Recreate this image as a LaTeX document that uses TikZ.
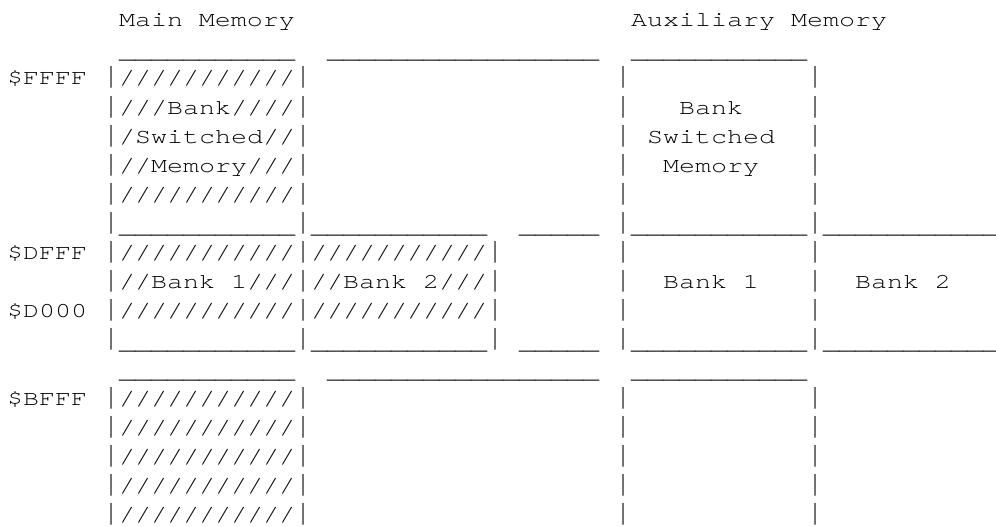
\documentclass[tikz,border=0pt]{standalone}
\usepackage{fontspec}
\usepackage{graphicx}
\newfontfamily\ascfamily{texgyrecursor-regular.otf}
% character cell: 16pt wide, rows 29.1pt apart; letters squeezed to 0.8 height
\newcommand\sq[1]{\scalebox{1}[0.8]{#1}}
% tall vertical bar and a lowered underscore run
\newcommand\vb{\scalebox{1}[1.4]{|}}
\newcommand\ul[1]{\raisebox{-3.5pt}{#1}}
\newcommand\ueleven{\ul{\_\_\_\_\_\_\_\_\_\_\_}}
\tikzset{
  asc/.style={anchor=base west, inner sep=0pt, outer sep=0pt,
    font=\fontsize{26.67pt}{29pt}\selectfont\ascfamily},
}
\begin{document}
\begin{tikzpicture}[x=16pt, y=-29.1pt]
\useasboundingbox[fill=white] (-0.4375,-0.921) rectangle (61.8125,17.189);
% headings
\node[asc] (mainT) at (7,0) {\sq{Main Memory}};
\node[asc] (auxT) at (39,0) {\sq{Auxiliary Memory}};
% top rules of the upper blocks
\node[asc] (u1a) at (7,1) {\sq{\ueleven}};
\node[asc] (u1b) at (20,1) {\sq{\ul{\_\_\_\_\_\_\_\_\_\_\_\_\_\_\_\_\_}}};
\node[asc] (u1c) at (39,1) {\sq{\ueleven}};
% bank switched memory, $E000-$FFFF
\node[asc] (aFFFF) at (0,2) {\sq{\$FFFF}};
\node[asc] (r2a) at (6,2) {\sq{\vb///////////\vb}};
\node[asc] (r2b) at (38,2) {\sq{\vb}};
\node[asc] (r2c) at (50,2) {\sq{\vb}};
\node[asc] (r3a) at (6,3) {\sq{\vb///Bank////\vb}};
\node[asc] (r3b) at (38,3) {\sq{\vb}};
\node[asc] (r3t) at (42,3) {\sq{Bank}};
\node[asc] (r3c) at (50,3) {\sq{\vb}};
\node[asc] (r4a) at (6,4) {\sq{\vb/Switched//\vb}};
\node[asc] (r4b) at (38,4) {\sq{\vb}};
\node[asc] (r4t) at (40,4) {\sq{Switched}};
\node[asc] (r4c) at (50,4) {\sq{\vb}};
\node[asc] (r5a) at (6,5) {\sq{\vb//Memory///\vb}};
\node[asc] (r5b) at (38,5) {\sq{\vb}};
\node[asc] (r5t) at (41,5) {\sq{Memory}};
\node[asc] (r5c) at (50,5) {\sq{\vb}};
\node[asc] (r6a) at (6,6) {\sq{\vb///////////\vb}};
\node[asc] (r6b) at (38,6) {\sq{\vb}};
\node[asc] (r6c) at (50,6) {\sq{\vb}};
\node[asc] (r7a) at (6,7) {\sq{\vb\ueleven\vb\ueleven}};
\node[asc] (r7b) at (32,7) {\sq{\ul{\_\_\_\_\_}}};
\node[asc] (r7c) at (38,7) {\sq{\vb\ueleven\vb\ueleven}};
% bank 1 and bank 2, $D000-$DFFF
\node[asc] (aDFFF) at (0,8) {\sq{\$DFFF}};
\node[asc] (r8a) at (6,8) {\sq{\vb///////////\vb///////////\vb}};
\node[asc] (r8b) at (38,8) {\sq{\vb}};
\node[asc] (r8c) at (50,8) {\sq{\vb}};
\node[asc] (r9a) at (6,9) {\sq{\vb//Bank 1///\vb//Bank 2///\vb}};
\node[asc] (r9b) at (38,9) {\sq{\vb}};
\node[asc] (r9t) at (41,9) {\sq{Bank 1}};
\node[asc] (r9c) at (50,9) {\sq{\vb}};
\node[asc] (r9u) at (53,9) {\sq{Bank 2}};
\node[asc] (aD000) at (0,10) {\sq{\$D000}};
\node[asc] (r10a) at (6,10) {\sq{\vb///////////\vb///////////\vb}};
\node[asc] (r10b) at (38,10) {\sq{\vb}};
\node[asc] (r10c) at (50,10) {\sq{\vb}};
\node[asc] (r11a) at (6,11) {\sq{\vb\ueleven\vb\ueleven\vb}};
\node[asc] (r11b) at (32,11) {\sq{\ul{\_\_\_\_\_}}};
\node[asc] (r11c) at (38,11) {\sq{\vb\ueleven\vb\ueleven}};
% lower 48K
\node[asc] (u12a) at (7,12) {\sq{\ueleven}};
\node[asc] (u12b) at (20,12) {\sq{\ul{\_\_\_\_\_\_\_\_\_\_\_\_\_\_\_\_\_}}};
\node[asc] (u12c) at (39,12) {\sq{\ueleven}};
\node[asc] (aBFFF) at (0,13) {\sq{\$BFFF}};
\foreach \r in {13,...,17}{
  \node[asc] (r\r a) at (6,\r) {\sq{\vb///////////\vb}};
  \node[asc] (r\r b) at (38,\r) {\sq{\vb}};
  \node[asc] (r\r c) at (50,\r) {\sq{\vb}};
}
\end{tikzpicture}
\end{document}
